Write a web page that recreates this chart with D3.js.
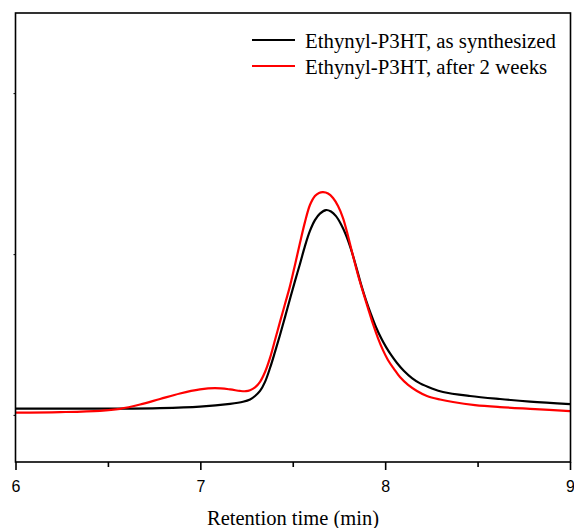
<!DOCTYPE html>
<html>
<head>
<meta charset="utf-8">
<script src="https://cdn.jsdelivr.net/npm/d3@7"></script>
<style>
  body { margin: 0; background: #fff; }
  svg { display: block; }
</style>
</head>
<body>
<div id="chart"></div>
<script>
// retention time (min) and normalized detector signal
var black_time = [6.000, 6.241, 6.565, 6.782, 6.998, 7.161, 7.231, 7.269, 7.296, 7.323, 7.350, 7.377, 7.404, 7.431, 7.458, 7.485, 7.512, 7.539, 7.566, 7.593, 7.620, 7.647, 7.680, 7.707, 7.734, 7.761, 7.788, 7.815, 7.842, 7.869, 7.896, 7.923, 7.950, 7.978, 8.005, 8.032, 8.064, 8.102, 8.145, 8.189, 8.253, 8.313, 8.459, 8.621, 8.784, 9.000];
var black_signal = [0.212, 0.212, 0.212, 0.214, 0.220, 0.231, 0.239, 0.248, 0.262, 0.282, 0.318, 0.373, 0.437, 0.504, 0.575, 0.647, 0.718, 0.786, 0.857, 0.917, 0.960, 0.986, 1.000, 0.994, 0.976, 0.944, 0.901, 0.845, 0.778, 0.706, 0.643, 0.587, 0.536, 0.492, 0.456, 0.425, 0.393, 0.361, 0.333, 0.312, 0.292, 0.278, 0.262, 0.250, 0.240, 0.230];

var red_time = [6.000, 6.241, 6.457, 6.565, 6.674, 6.782, 6.890, 6.998, 7.079, 7.161, 7.215, 7.247, 7.269, 7.296, 7.323, 7.350, 7.377, 7.404, 7.431, 7.458, 7.485, 7.512, 7.539, 7.566, 7.593, 7.620, 7.642, 7.664, 7.691, 7.718, 7.745, 7.772, 7.799, 7.826, 7.853, 7.880, 7.907, 7.934, 7.961, 7.988, 8.015, 8.048, 8.080, 8.124, 8.172, 8.226, 8.297, 8.367, 8.486, 8.621, 8.811, 9.000];
var red_signal = [0.196, 0.198, 0.203, 0.211, 0.228, 0.250, 0.272, 0.288, 0.293, 0.288, 0.282, 0.281, 0.285, 0.296, 0.318, 0.357, 0.413, 0.484, 0.556, 0.627, 0.698, 0.782, 0.869, 0.952, 1.020, 1.056, 1.068, 1.071, 1.066, 1.048, 1.016, 0.968, 0.897, 0.818, 0.742, 0.675, 0.611, 0.548, 0.492, 0.444, 0.405, 0.369, 0.337, 0.306, 0.282, 0.262, 0.248, 0.238, 0.226, 0.218, 0.210, 0.202];

var series_names = ["Ethynyl-P3HT, as synthesized", "Ethynyl-P3HT, after 2 weeks"];
var series_colors = ["#000000", "#ff0000"];

var x_major_ticks = [6, 7, 8, 9];
var x_minor_ticks = [6.5, 7.5, 8.5];
var y_ticks = [0.187, 0.825, 1.464];

var width = 574, height = 528;
var plot_left = 15.5, plot_right = 570.5, plot_top = 13, plot_bottom = 462;

var svg = d3.select("#chart").append("svg")
            .attr("width", width)
            .attr("height", height);

var x = d3.scaleLinear().domain([6, 9]).range([plot_left, plot_right - 0.5]);
var y = d3.scaleLinear().domain([0, 1.782]).range([plot_bottom, plot_top]);

var line = d3.line()
             .x(function(d) { return x(d[0]); })
             .y(function(d) { return y(d[1]); })
             .curve(d3.curveCatmullRom.alpha(0.5));

var black_data = d3.zip(black_time, black_signal);
var red_data = d3.zip(red_time, red_signal);

svg.append("path")
   .datum(black_data)
   .attr("d", line)
   .attr("fill", "none")
   .attr("stroke", series_colors[0])
   .attr("stroke-width", 2.2);

svg.append("path")
   .datum(red_data)
   .attr("d", line)
   .attr("fill", "none")
   .attr("stroke", series_colors[1])
   .attr("stroke-width", 2.2);

// frame
svg.append("rect")
   .attr("x", plot_left)
   .attr("y", plot_top)
   .attr("width", plot_right - plot_left)
   .attr("height", plot_bottom - plot_top)
   .attr("fill", "none")
   .attr("stroke", "#000")
   .attr("stroke-width", 1.6);

var x_axis = svg.append("g")
                .attr("transform", "translate(0," + plot_bottom + ")")
                .call(d3.axisBottom(x).tickValues(x_major_ticks).tickSize(8).tickPadding(11).tickFormat(d3.format("d")));
x_axis.select(".domain").remove();
x_axis.selectAll("line").attr("stroke-width", 1.6);
x_axis.selectAll("text")
      .attr("font-family", "'Liberation Sans', Arial, sans-serif")
      .attr("font-size", 16)
      .attr("fill", "#000");

var x_minor = svg.append("g")
                 .attr("transform", "translate(0," + plot_bottom + ")")
                 .call(d3.axisBottom(x).tickValues(x_minor_ticks).tickSize(5).tickFormat(""));
x_minor.select(".domain").remove();
x_minor.selectAll("line").attr("stroke-width", 1.6);

var y_axis = svg.append("g")
                .attr("transform", "translate(" + plot_left + ",0)")
                .call(d3.axisLeft(y).tickValues(y_ticks).tickSize(2).tickFormat(""));
y_axis.select(".domain").remove();

svg.append("text")
   .attr("x", 293)
   .attr("y", 525)
   .attr("text-anchor", "middle")
   .attr("font-family", "'Liberation Serif', 'Times New Roman', serif")
   .attr("font-size", 20.5)
   .text("Retention time (min)");

// legend
var legend = svg.append("g").attr("transform", "translate(252,40)");
series_names.forEach(function(name, i) {
	var row = legend.append("g").attr("transform", "translate(0," + (i * 26) + ")");
	row.append("line")
	   .attr("x1", 0)
	   .attr("x2", 43)
	   .attr("y1", 0)
	   .attr("y2", 0)
	   .attr("stroke", series_colors[i])
	   .attr("stroke-width", 2.2);
	row.append("text")
	   .attr("x", 53)
	   .attr("y", 8)
	   .attr("font-family", "'Liberation Serif', 'Times New Roman', serif")
	   .attr("font-size", 20.8)
	   .text(name);
});
</script>
</body>
</html>
